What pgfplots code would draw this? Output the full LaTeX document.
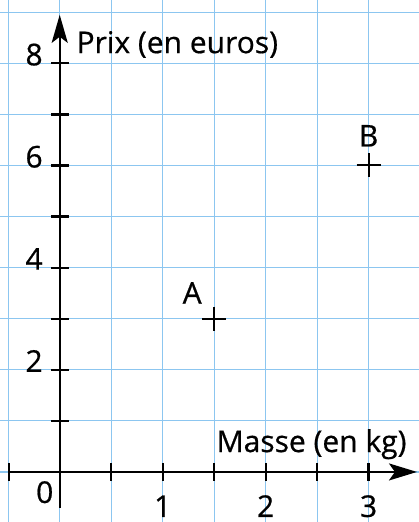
\documentclass[border=0pt]{standalone}
\usepackage{pgfplots}
\pgfplotsset{compat=1.18}
\usepackage{fontspec}
\setmainfont{Open Sans}[FakeBold=0.6]
\usetikzlibrary{arrows.meta}
\definecolor{gridblue}{RGB}{140,198,240}
\begin{document}
\begin{tikzpicture}
\begin{axis}[
  x=51.5pt, y=25.55pt,
  xmin=-0.58, xmax=3.485, ymin=-0.98, ymax=9.24,
  xtick={-0.5,0,...,3.5}, ytick={0,...,9},
  xticklabels={}, yticklabels={},
  grid=major, major grid style={gridblue, line width=0.6pt},
  major tick length=0pt,
  axis line style={draw=none},
  font=\fontsize{15}{17}\selectfont,
  clip=false
]
% axes
\addplot[black, line width=1.2pt, -{Stealth[length=14pt,width=8.5pt,inset=3pt]}] coordinates {(-0.49,0) (3.47,0)};
\addplot[black, line width=1.2pt, -{Stealth[length=14pt,width=8pt,inset=3pt]}] coordinates {(0,-0.70) (0,8.95)};
% tick marks
\addplot[only marks, mark=|, mark size=4.5pt, mark options={line width=1.1pt}] coordinates {
  (-0.49,0) (0.5,0) (1,0) (1.5,0) (2,0) (2.5,0) (3,0)
};
\addplot[only marks, mark=-, mark size=4.5pt, mark options={line width=1.1pt}] coordinates {
  (0,1) (0,2) (0,3) (0,4) (0,5) (0,6) (0,7) (0,8)
};
% points A and B
\addplot[only marks, mark=+, mark size=6pt, mark options={line width=1pt}] coordinates {
  (1.5,3) (3,6)
};
% tick labels
\node[anchor=base east] at (axis cs:0,8) [xshift=-5pt, yshift=-1pt] {8};
\node[anchor=base east] at (axis cs:0,6) [xshift=-5pt, yshift=-1pt] {6};
\node[anchor=base east] at (axis cs:0,4) [xshift=-5pt, yshift=-1pt] {4};
\node[anchor=base east] at (axis cs:0,2) [xshift=-5pt, yshift=-1pt] {2};
\node[anchor=base] at (axis cs:1,0) [yshift=-22.5pt] {1};
\node[anchor=base] at (axis cs:2,0) [yshift=-22.5pt] {2};
\node[anchor=base] at (axis cs:3,0) [yshift=-22.5pt] {3};
\node[anchor=base] at (axis cs:0,0) [xshift=-7.5pt, yshift=-15.5pt] {0};
% axis titles
\node[anchor=base west, inner sep=0pt] at (axis cs:0.16,8.2) {Prix (en euros)};
\node[anchor=base west, inner sep=0pt] at (axis cs:1.52,0.39) {Masse (en kg)};
% point labels
\node[anchor=base] at (axis cs:1.5,3) [xshift=-11pt, yshift=7.5pt] {A};
\node[anchor=base] at (axis cs:3,6) [yshift=9.5pt] {B};
\end{axis}
\pgfresetboundingbox
\path (current axis.south west) rectangle (current axis.north east);
\end{tikzpicture}
\end{document}
